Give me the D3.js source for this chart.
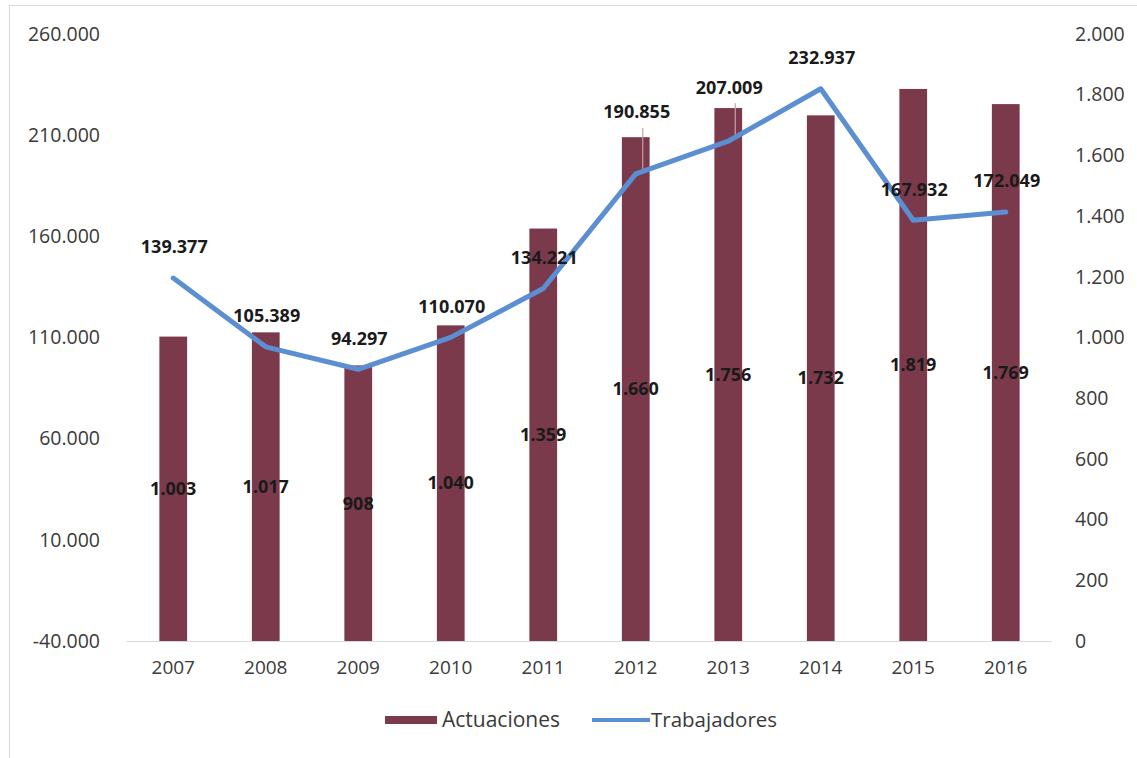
<!DOCTYPE html>
<html lang="es">
<head>
    <meta charset="UTF-8">
    <title>Actuaciones y Trabajadores</title>
    <script src="https://d3js.org/d3.v7.min.js"></script>
    <style>
        body { margin: 0; background: #fff; }
        svg text { font-family: "Open Sans", sans-serif; }
    </style>
</head>
<body>
<svg id="chart" width="1137" height="758"></svg>
<script>
    const years = ["2007", "2008", "2009", "2010", "2011", "2012", "2013", "2014", "2015", "2016"];
    const actuaciones = [1003, 1017, 908, 1040, 1359, 1660, 1756, 1732, 1819, 1769];
    const trabajadores = [139377, 105389, 94297, 110070, 134221, 190855, 207009, 232937, 167932, 172049];
    const leftTicks = [-40000, 10000, 60000, 110000, 160000, 210000, 260000];
    const rightTicks = [0, 200, 400, 600, 800, 1000, 1200, 1400, 1600, 1800, 2000];
    // labels of 2012 and 2013 were dragged up in the original, with a leader line
    const lineLabelLift = [31, 31, 31, 31, 31, 62, 54, 31, 31, 31];

    const barColor = "#7b3a4c";
    const lineColor = "#5b8fd2";
    const textColor = "#3a3a3a";

    const es = d3.formatLocale({ decimal: ",", thousands: ".", grouping: [3], currency: ["", " €"], minus: "-" });
    const fmt = es.format(",d");

    const svg = d3.select("#chart");
    const mLeft = 127, mRight = 1052, mTop = 34, mBottom = 641;

    // frame
    svg.append("rect")
        .attr("x", 9.5).attr("y", 5.5)
        .attr("width", 1200).attr("height", 800)
        .attr("fill", "none").attr("stroke", "#d9d9d9");

    const x = d3.scaleBand().domain(years).range([mLeft, mRight])
        .paddingInner(0.7).paddingOuter(0.35);
    const yL = d3.scaleLinear().domain([-40000, 260000]).range([mBottom, mTop]);
    const yR = d3.scaleLinear().domain([0, 2000]).range([mBottom, mTop]);
    const cx = i => x(years[i]) + x.bandwidth() / 2;

    // axes
    const axL = svg.append("g").attr("transform", `translate(${mLeft - 24},0)`)
        .call(d3.axisLeft(yL).tickValues(leftTicks).tickFormat(fmt).tickSize(0));
    const axR = svg.append("g").attr("transform", `translate(${mRight + 20},0)`)
        .call(d3.axisRight(yR).tickValues(rightTicks).tickFormat(fmt).tickSize(0));
    const axX = svg.append("g").attr("transform", `translate(0,${mBottom})`)
        .call(d3.axisBottom(x).tickSize(0).tickPadding(20));
    [axL, axR, axX].forEach(a => {
        a.select(".domain").remove();
        a.selectAll("text").attr("font-size", 19.5).attr("fill", textColor)
            .style("font-family", "'Open Sans', sans-serif");
    });
    axX.selectAll("text").attr("font-size", 19);

    // bars
    svg.append("g").selectAll("rect")
        .data(actuaciones)
        .join("rect")
        .attr("x", (d, i) => x(years[i]))
        .attr("width", x.bandwidth())
        .attr("y", d => yR(d))
        .attr("height", d => yR(0) - yR(d))
        .attr("fill", barColor);

    // baseline
    svg.append("line")
        .attr("x1", mLeft).attr("x2", mRight)
        .attr("y1", mBottom + 0.5).attr("y2", mBottom + 0.5)
        .attr("stroke", "#d9d9d9").attr("stroke-width", 1);

    // leader lines for the moved labels
    const moved = d3.range(years.length).filter(i => lineLabelLift[i] > 40);
    svg.append("g").selectAll("line")
        .data(moved)
        .join("line")
        .attr("x1", i => cx(i) + 7)
        .attr("x2", i => cx(i) + 7)
        .attr("y1", i => yL(trabajadores[i]) - lineLabelLift[i] + 16)
        .attr("y2", i => yL(trabajadores[i]) - 2)
        .attr("stroke", "#c4a2ab").attr("stroke-width", 1.2);

    // line
    const line = d3.line()
        .x((d, i) => cx(i))
        .y(d => yL(d));
    svg.append("path")
        .datum(trabajadores)
        .attr("d", line)
        .attr("fill", "none")
        .attr("stroke", lineColor)
        .attr("stroke-width", 5)
        .attr("stroke-linejoin", "round")
        .attr("stroke-linecap", "round");

    // bar labels
    svg.append("g").selectAll("text")
        .data(actuaciones)
        .join("text")
        .attr("x", (d, i) => cx(i))
        .attr("y", d => (yR(d) + yR(0)) / 2)
        .attr("dy", "0.35em")
        .attr("text-anchor", "middle")
        .attr("font-size", 18)
        .attr("font-weight", "bold")
        .attr("fill", "#1a1a1a")
        .text(d => fmt(d));

    // line labels
    svg.append("g").selectAll("text")
        .data(trabajadores)
        .join("text")
        .attr("x", (d, i) => cx(i) + 1)
        .attr("y", (d, i) => yL(d) - lineLabelLift[i])
        .attr("dy", "0.35em")
        .attr("text-anchor", "middle")
        .attr("font-size", 18)
        .attr("font-weight", "bold")
        .attr("fill", "#1a1a1a")
        .text(d => fmt(d));

    // legend
    const lg = svg.append("g").attr("transform", "translate(385,720)");
    lg.append("rect").attr("x", 0).attr("y", -4).attr("width", 52).attr("height", 8).attr("fill", barColor);
    lg.append("text").attr("x", 57).attr("y", 0).attr("dy", "0.35em")
        .attr("font-size", 21).attr("fill", textColor).text("Actuaciones");
    lg.append("line").attr("x1", 207).attr("x2", 265).attr("y1", 0).attr("y2", 0)
        .attr("stroke", lineColor).attr("stroke-width", 4);
    lg.append("text").attr("x", 266).attr("y", 0).attr("dy", "0.35em")
        .attr("font-size", 20.5).attr("fill", textColor).text("Trabajadores");
</script>
</body>
</html>
